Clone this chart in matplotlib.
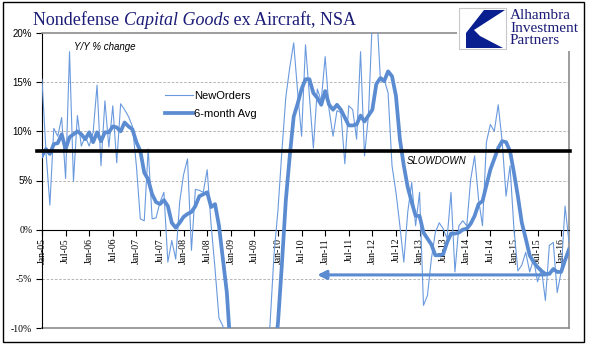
import numpy as np
import pandas as pd
import matplotlib
matplotlib.use("Agg")
import matplotlib.pyplot as plt
from matplotlib.patches import Rectangle, Polygon

# monthly Y/Y % change, Jan-05 .. Mar-16
months = pd.date_range("2005-01-01", periods=135, freq="MS")

new_orders = [
    15.3, 8.0, 2.5, 10.3, 9.5, 11.4, 5.2, 18.1, 4.9, 11.6,
    8.5, 9.5, 8.5, 9.9, 14.7, 6.5, 13.1, 8.4, 12.6, 6.8,
    12.8, 12.2, 11.5, 10.5, 6.5, 1.1, 0.9, 8.2, 1.1, 1.2,
    2.8, 3.8, -3.3, -1.1, -3.0, 2.8, 5.6, 7.2, -2.1, 4.1,
    4.0, 3.8, 6.1, 0.5, -4.0, -9.0, -9.8, -14.0, -20.0, -24.0,
    -27.0, -28.0, -27.0, -25.0, -22.0, -20.0, -18.0, -14.0, -9.5, -2.5,
    2.0, 8.0, 13.5, 16.5, 19.0, 14.0, 9.5, 18.8, 13.5, 8.3,
    14.3, 13.1, 17.6, 12.2, 9.5, 12.1, 11.9, 6.7, 12.6, 12.2,
    9.2, 18.1, 7.5, 11.6, 21.5, 23.0, 15.6, 15.3, 13.9, 6.5,
    3.8, 0.4, -3.3, 1.8, 4.8, 0.4, 3.8, -7.7, -6.7, -3.0,
    -0.3, 0.7, 0.1, -0.9, 3.8, -4.3, 0.4, 0.9, 0.4, 5.1,
    7.5, 3.1, 0.4, 8.9, 10.7, 10.0, 12.7, 9.0, 3.4, 6.5,
    0.1, -4.2, -3.6, -2.3, -4.3, -3.0, -5.3, -4.0, -7.2, -1.6,
    -1.3, -6.4, -4.3, 2.4, -1.3,
]

avg6 = [
    7.5, 8.2, 7.7, 8.7, 8.8, 9.7, 8.2, 9.4, 9.7, 10.0,
    9.7, 9.2, 9.9, 8.9, 9.9, 9.0, 9.9, 9.9, 10.5, 10.4,
    10.0, 10.9, 10.5, 10.2, 8.9, 8.0, 5.8, 5.1, 3.6, 2.8,
    2.6, 3.0, 2.4, 0.7, 0.2, 0.7, 1.3, 1.6, 1.8, 2.4,
    3.4, 3.6, 3.8, 2.3, 2.6, 0.4, -3.0, -6.4, -12.5, -16.0,
    -19.0, -22.0, -24.0, -25.0, -25.0, -24.0, -22.0, -20.0, -17.0, -13.0,
    -9.5, -3.5, 3.0, 7.5, 11.5, 12.8, 14.3, 15.3, 15.3, 13.9,
    13.4, 12.7, 14.1, 12.7, 12.2, 12.7, 12.2, 11.4, 10.6, 10.6,
    10.7, 11.6, 11.0, 11.6, 12.2, 14.8, 15.4, 15.1, 16.1, 15.6,
    13.6, 9.2, 6.5, 4.3, 2.8, 1.4, 1.4, -0.3, -0.9, -1.5,
    -2.6, -2.6, -2.5, -1.3, -0.4, -0.4, -0.3, 0.0, 0.1, 0.6,
    1.4, 2.6, 2.9, 4.5, 6.1, 7.2, 8.3, 9.0, 8.9, 8.0,
    5.8, 3.4, 0.7, -0.9, -2.6, -3.3, -3.8, -4.2, -4.5, -4.5,
    -4.0, -4.3, -4.3, -3.1, -2.0,
]

slowdown_level = 8
arrow_level = -4.6
arrow_from = "2015-09"
arrow_to = "2010-11"

W, H = 596, 358
blue = "#5b8cd2"
thin_blue = "#6a9ade"
navy = "#1c1c78"

fig = plt.figure(figsize=(W / 100, H / 100), dpi=100)
ax = fig.add_axes([42 / W, 1 - 328 / H, (569 - 42) / W, (328 - 33) / H])

x = np.arange(len(months))
ax.plot(x, new_orders, color=thin_blue, lw=0.8, label="NewOrders", zorder=3)
ax.plot(x, avg6, color=blue, lw=2.7, label="6-month Avg", zorder=4)
ax.set_xlim(0, len(months) - 1)
ax.set_ylim(-10, 20)

for v in (-5, 5, 10, 15):
    ax.axhline(v, color="#a8a8a8", lw=0.6, ls=(0, (3, 2)), zorder=1)
ax.axhline(-10, color="#8c8c8c", lw=1.2, clip_on=False, zorder=2)

ax.axhline(slowdown_level, xmin=-0.01, xmax=1.002, color="black", lw=2.6,
           clip_on=False, zorder=5)

i_from = months.get_loc(pd.Timestamp(arrow_from))
i_to = months.get_loc(pd.Timestamp(arrow_to))
ax.annotate("", xy=(i_to, arrow_level), xytext=(i_from, arrow_level),
            arrowprops=dict(arrowstyle="-|>", lw=2.2, color=blue,
                            mutation_scale=13, shrinkA=0, shrinkB=0),
            zorder=4)

# axes look
ax.spines["bottom"].set_position(("data", 0))
ax.spines["bottom"].set_color("black")
ax.spines["left"].set_color("black")
ax.spines["top"].set_color("#8c8c8c")
ax.spines["right"].set_color("#8c8c8c")
ax.spines["top"].set_linewidth(1.2)
ax.spines["right"].set_linewidth(1.2)

ax.set_xticks(x[::6])
ax.set_xticklabels([d.strftime("%b-%y") for d in months[::6]], rotation=90,
                   family="Liberation Serif", fontsize=7)
ax.tick_params(axis="x", direction="out", length=4, width=0.8, pad=2)

yt = list(range(-10, 25, 5))
ax.set_yticks(yt)
ax.set_yticklabels([f"{v}%" for v in yt], fontsize=7)
for lab, v in zip(ax.get_yticklabels(), yt):
    lab.set_family("Liberation Sans" if v > 0 else "Liberation Serif")
ax.tick_params(axis="y", direction="out", length=4, width=0.8, pad=3)

ax.legend(loc="upper left", bbox_to_anchor=(165 / W, 1 - 91 / H),
          bbox_transform=fig.transFigure, frameon=False,
          prop={"family": "Liberation Sans", "size": 8},
          handlelength=2.5, handletextpad=0.1, labelspacing=0.75,
          borderpad=0, borderaxespad=0)

fig.text(74 / W, 1 - 47.5 / H, "Y/Y % change", ha="left", va="center",
         style="italic", fontsize=7, family="Liberation Sans")
fig.text(407 / W, 1 - 161.5 / H, "SLOWDOWN", ha="left", va="center",
         style="italic", fontsize=7, family="Liberation Sans")

# title with italic part
r = fig.canvas.get_renderer()
tx = 33
for s, st in [("Nondefense ", "normal"), ("Capital Goods", "italic"),
              (" ex Aircraft, NSA", "normal")]:
    t = fig.text(tx / W, 1 - 25 / H, s, fontsize=13, family="Liberation Serif",
                 style=st, color=navy, va="baseline")
    tx += t.get_window_extent(r).width

# logo
def px(xp, yp):
    return (xp / W, 1 - yp / H)

fig.add_artist(Rectangle(px(457, 51), 126 / W, 47 / H, transform=fig.transFigure,
                         fc="white", ec="none", zorder=10))
fig.add_artist(Rectangle(px(459, 49), 47 / W, 41 / H, transform=fig.transFigure,
                         fc="white", ec="#c8c8c8", lw=0.8, zorder=11))
fig.add_artist(Polygon([px(484, 10), px(505, 10), px(474, 30), px(480, 36),
                        px(503, 48), px(466, 48), px(466, 33)],
                       closed=True, transform=fig.transFigure,
                       fc="#0a1f8f", ec="none", zorder=12))
for i, s in enumerate(["Alhambra", "Investment", "Partners"]):
    fig.text(510 / W, 1 - (19 + 12.5 * i) / H, s, fontsize=11,
             family="Liberation Serif", color=navy, va="baseline", zorder=12)

fig.add_artist(Rectangle(px(3, 342), 581 / W, 340 / H, transform=fig.transFigure,
                         fill=False, ec="black", lw=1, zorder=13))

fig.savefig("out.png", dpi=100)
